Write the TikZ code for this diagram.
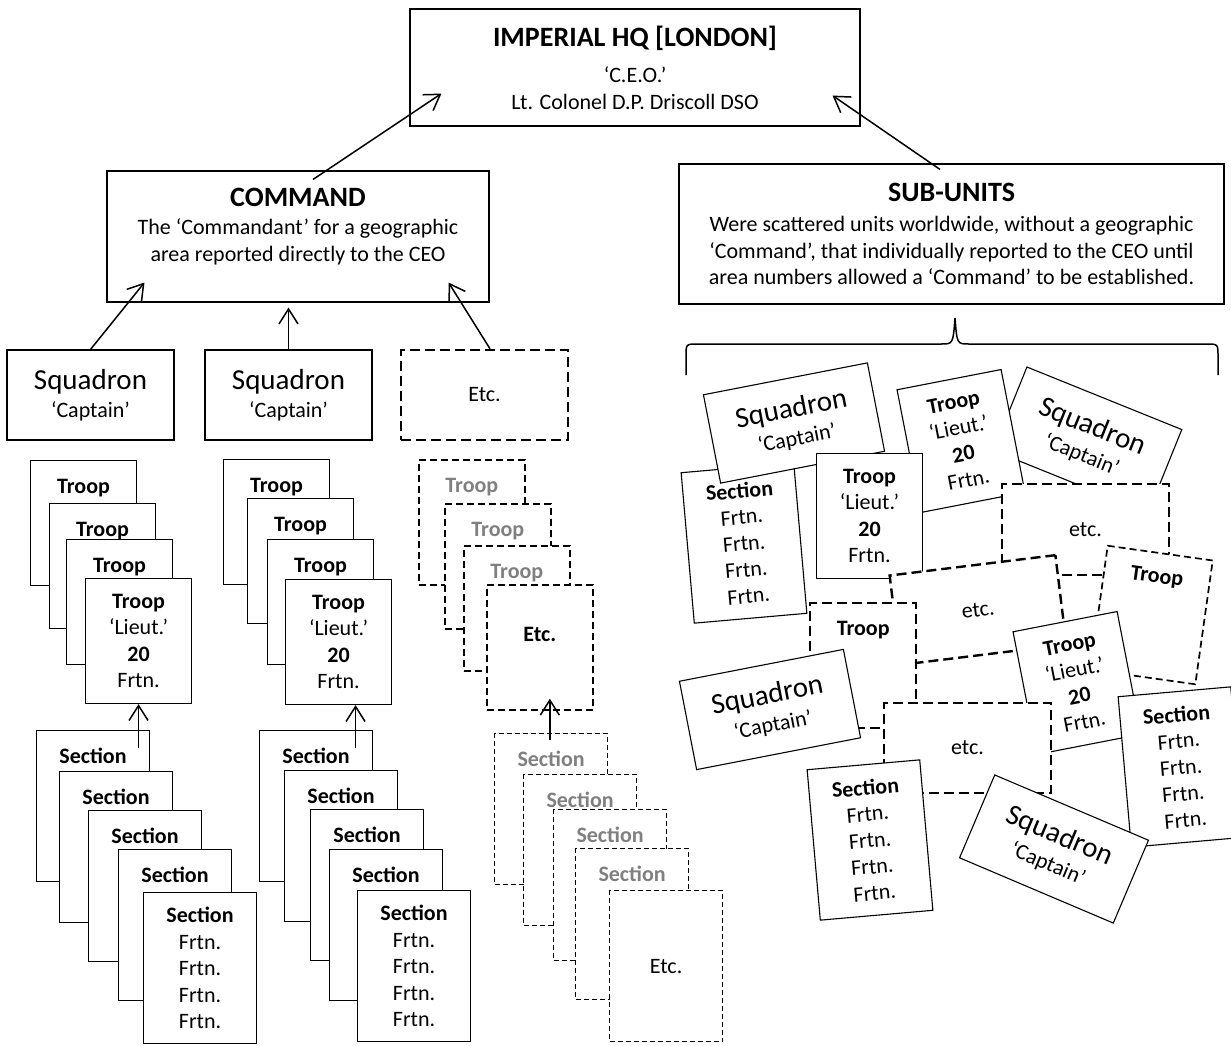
\documentclass[tikz,border=0pt]{standalone}
\usepackage{fontspec}
\setmainfont{Carlito}
\usetikzlibrary{arrows.meta,calc}

\newcommand{\bodysize}{\fontsize{11}{13.2}\selectfont}
\newcommand{\titlesize}{\fontsize{14}{17}\selectfont\bfseries}
\newcommand{\squadsize}{\fontsize{14.5}{17}\selectfont}

\tikzset{
  box/.style={draw, fill=white, line width=0.55pt, inner sep=0pt, align=center},
  squadbox/.style={box, minimum width=83.5pt, minimum height=45pt},
  troopcard/.style={box, minimum width=53pt, minimum height=62.5pt},
  sectcard/.style={box, minimum width=56.5pt, minimum height=75.5pt},
  stacked/.style={anchor=north west},
  headlab/.style={anchor=base, yshift=-16.5pt, font=\bodysize\bfseries},
  cardhead/.style={label={[headlab]north:#1}},
  greycardhead/.style={label={[headlab, text=gray]north:#1}},
  bigdash/.style={line width=1.2pt, dash pattern=on 5pt off 2.5pt},
  middash/.style={line width=0.85pt, dash pattern=on 3.5pt off 2pt},
  smalldash/.style={line width=0.6pt, dash pattern=on 2.5pt off 1.5pt},
  report/.style={-{Straight Barb[length=7.5pt,width=9.5pt]}, line width=0.75pt}
}

\begin{document}
\begin{tikzpicture}[x=0.5pt, y=-0.5pt, font=\bodysize]
  \useasboundingbox (0,0) rectangle (1231,1045);

  % top level
  \node[box, minimum width=225pt, minimum height=58.5pt] (hq) at (635,67.5)
    {{\titlesize IMPERIAL HQ [LONDON]}\\[5pt]‘C.E.O.’\\Lt. Colonel D.P. Driscoll DSO};
  \node[box, minimum width=191pt, minimum height=65.5pt, text depth=12pt] (cmd) at (298,236.5)
    {{\titlesize COMMAND}\\[1pt]The ‘Commandant’ for a geographic\\area reported directly to the CEO};
  \node[box, minimum width=272.5pt, minimum height=70pt] (sub) at (951.5,234)
    {{\titlesize SUB-UNITS}\\[2pt]Were scattered units worldwide, without a geographic\\‘Command’, that individually reported to the CEO until\\area numbers allowed a ‘Command’ to be established.};

  % command side
  \node[squadbox] (sq1) at (90.5,395) {{\squadsize Squadron}\\[1pt]‘Captain’};
  \node[squadbox] (sq2) at (288.5,395) {{\squadsize Squadron}\\[1pt]‘Captain’};
  \node[squadbox, bigdash] (etc) at (484.5,395) {Etc.};

  \node[troopcard, stacked, cardhead=Troop] (tr1a) at (30,460) {};
  \node[troopcard, stacked, cardhead=Troop] (tr1b) at (49,503) {};
  \node[troopcard, stacked, cardhead=Troop] (tr1c) at (66,539) {};
  \node[troopcard, stacked] (tr1d) at (85,578)
    {\textbf{Troop}\\‘Lieut.’\\\textbf{20}\\Frtn.};

  \node[troopcard, stacked, cardhead=Troop] (tr2a) at (223,459) {};
  \node[troopcard, stacked, cardhead=Troop] (tr2b) at (247,498) {};
  \node[troopcard, stacked, cardhead=Troop] (tr2c) at (267,539) {};
  \node[troopcard, stacked] (tr2d) at (285,579)
    {\textbf{Troop}\\‘Lieut.’\\\textbf{20}\\Frtn.};

  \node[troopcard, stacked, middash, greycardhead=Troop] (trxa) at (418,459) {};
  \node[troopcard, stacked, middash, greycardhead=Troop] (trxb) at (444,503) {};
  \node[troopcard, stacked, middash, greycardhead=Troop] (trxc) at (463,545) {};
  \node[troopcard, stacked, middash, label={[headlab, yshift=-12pt]north:Etc.}] (trxd) at (486,584) {};

  \node[sectcard, stacked, cardhead=Section] (se1a) at (36,730) {};
  \node[sectcard, stacked, cardhead=Section] (se1b) at (59,771) {};
  \node[sectcard, stacked, cardhead=Section] (se1c) at (88,810) {};
  \node[sectcard, stacked, cardhead=Section] (se1d) at (118,849) {};
  \node[sectcard, stacked] (se1e) at (143,892)
    {\textbf{Section}\\Frtn.\\Frtn.\\Frtn.\\Frtn.};

  \node[sectcard, stacked, cardhead=Section] (se2a) at (259,730) {};
  \node[sectcard, stacked, cardhead=Section] (se2b) at (284,770) {};
  \node[sectcard, stacked, cardhead=Section] (se2c) at (310,809) {};
  \node[sectcard, stacked, cardhead=Section] (se2d) at (329,849) {};
  \node[sectcard, stacked] (se2e) at (357,890)
    {\textbf{Section}\\Frtn.\\Frtn.\\Frtn.\\Frtn.};

  \node[sectcard, stacked, smalldash, greycardhead=Section] (sexa) at (494,733) {};
  \node[sectcard, stacked, smalldash, greycardhead=Section] (sexb) at (523,774) {};
  \node[sectcard, stacked, smalldash, greycardhead=Section] (sexc) at (553,809) {};
  \node[sectcard, stacked, smalldash, greycardhead=Section] (sexd) at (575,848) {};
  \node[sectcard, stacked, smalldash] (sexe) at (609,890) {Etc.};

  % sub-units side
  \draw[line width=0.75pt] (686,375) -- (686,356) .. controls (686,344) .. (698,344)
    -- (941,344) .. controls (953,344) .. (955,318) .. controls (957,344) .. (969,344)
    -- (1206,344) .. controls (1218,344) .. (1218,356) -- (1218,375);

  \node[sectcard, rotate=5] (su1) at (744,543)
    {\textbf{Section}\\Frtn.\\Frtn.\\Frtn.\\Frtn.};
  \node[squadbox, rotate=11] (sq3) at (794,423) {{\squadsize Squadron}\\[1pt]‘Captain’};
  \node[squadbox, rotate=-22] (sq4) at (1087.5,440) {{\squadsize Squadron}\\[1pt]‘Captain’};
  \node[troopcard, rotate=11] (tr3) at (961,441)
    {\textbf{Troop}\\‘Lieut.’\\\textbf{20}\\Frtn.};
  \node[troopcard] (tr4) at (869.5,516)
    {\textbf{Troop}\\‘Lieut.’\\\textbf{20}\\Frtn.};
  \node[squadbox, bigdash, minimum height=45.5pt] (etc2) at (1085.5,529.5) {etc.};
  \node[squadbox, bigdash, rotate=7] (etc1) at (978,610) {etc.};
  \node[troopcard, middash, rotate=-8] (trd2) at (1151.5,615) {};
  \node[rotate=-8, font=\bodysize\bfseries] (trd2h) at ($(trd2.north)!0.2!(trd2.south)$) {Troop};
  \node[troopcard, stacked, bigdash, cardhead=Troop] (trd1) at (809,602) {};
  \node[troopcard, rotate=11] (tr5) at (1077,683)
    {\textbf{Troop}\\‘Lieut.’\\\textbf{20}\\Frtn.};
  \node[squadbox, bigdash] (etc3) at (967.5,748) {etc.};
  \node[sectcard, rotate=5] (su3) at (1181,767)
    {\textbf{Section}\\Frtn.\\Frtn.\\Frtn.\\Frtn.};
  \node[squadbox, rotate=11] (sq5) at (770,709.5) {{\squadsize Squadron}\\[1pt]‘Captain’};
  \node[sectcard, rotate=5] (su2) at (870,840)
    {\textbf{Section}\\Frtn.\\Frtn.\\Frtn.\\Frtn.};
  \node[squadbox, rotate=-23] (sq6) at (1054,849) {{\squadsize Squadron}\\[1pt]‘Captain’};

  % reporting lines
  \draw[report] ([shift={(15,9)}]cmd.north) -- ([shift={(32,-33)}]hq.south west);
  \draw[report] ([shift={(-11.5,6)}]sub.north) -- ([shift={(-28,-31)}]hq.south east);
  \draw[report] (sq1.north) -- ([shift={(38,-20)}]cmd.south west);
  \draw[report] (sq2.north) -- ($(cmd.south -| sq2.north)+(0,5)$);
  \draw[report] ([xshift=2.75pt]etc.north) -- ([shift={(-41,-20)}]cmd.south east);
  \draw[report] ($(tr1d.south |- se1a.north)+(0,18)$) -- (tr1d.south);
  \draw[report] ($([xshift=8.5pt]tr2d.south |- se2a.north)+(0,18)$) -- ([xshift=8.5pt]tr2d.south);
  \draw[report] ($([xshift=5pt]trxd.south |- sexa.north)+(0,7)$) -- ([shift={(10,-12)}]trxd.south);
\end{tikzpicture}
\end{document}
